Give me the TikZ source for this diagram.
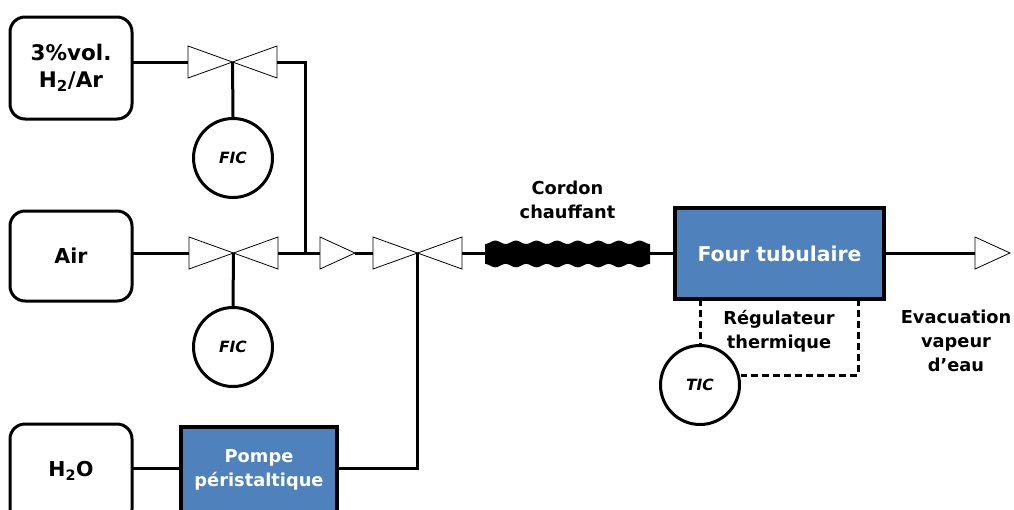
\documentclass[tikz,border=0pt]{standalone}
\usepackage{fontspec}
\setmainfont{DejaVu Sans}
\definecolor{boxblue}{HTML}{4F81BD}
\tikzset{
  pipe/.style={line width=3pt,line cap=butt,line join=miter},
  signal/.style={line width=3pt,dash pattern=on 7pt off 4pt,line join=miter},
  srcbox/.style={draw,line width=3pt,rounded corners=15pt,minimum width=122pt,align=center,font=\bfseries\fontsize{20.5}{27}\selectfont,inner sep=0pt},
  unitbox/.style={draw,line width=3.2pt,fill=boxblue,text=white,align=center,inner sep=0pt},
  instr/.style={draw,circle,line width=3pt,fill=white,minimum size=79pt,inner sep=0pt,font=\bfseries\itshape\fontsize{15.5}{18}\selectfont},
  lbl/.style={align=center,font=\bfseries\fontsize{17.8}{24}\selectfont,inner sep=0pt},
  tri/.style={draw,line width=0.8pt,fill=white,line join=miter},
  valve/.pic={
    \coordinate (-l) at (-44.5,0);
    \coordinate (-r) at (44.5,0);
    \coordinate (-c) at (0,0);
    \draw[tri] (-44.5,-16) -- (0,0) -- (-44.5,16) -- cycle;
    \draw[tri] (44.5,-16) -- (0,0) -- (44.5,16) -- cycle;
  },
  oneway/.pic={
    \coordinate (-l) at (0,0);
    \coordinate (-r) at (35,0);
    \draw[tri] (0,-16) -- (35,0) -- (0,16) -- cycle;
  }
}
\begin{document}
\begin{tikzpicture}[x=1pt,y=-1pt]
\useasboundingbox (0,0) rectangle (1014,509);
\clip (0,0) rectangle (1014,509);
% boxes
\node[srcbox,minimum height=102pt,font=\bfseries\fontsize{21.5}{27}\selectfont] (gas) at (71,68) {3\%vol.\\H\textsubscript{2}/Ar};
\node[srcbox,minimum height=90pt] (air) at (71,256) {Air};
\node[srcbox,minimum height=100pt] (eau) at (71,474) {};
\node[lbl,font=\bfseries\fontsize{20.5}{26}\selectfont] (eautxt) at (71,471) {H\textsubscript{2}O};
\node[unitbox,minimum width=156pt,minimum height=100pt] (pompe) at (259,477) {};
\node[lbl,text=white] (pompetxt) at (259,470) {Pompe\\péristaltique};
\node[unitbox,minimum width=209pt,minimum height=91pt,font=\bfseries\fontsize{20.4}{24}\selectfont] (four) at (779.5,253.5) {Four tubulaire};
% connector anchors
\coordinate (j1) at (305,62);
\coordinate (j2) at (305,253);
\coordinate (j3) at (417.5,468);
\coordinate (cl) at (485,253);
\coordinate (cr) at (650,253);
\coordinate (fs1) at (700,299);
\coordinate (fs2) at (858,299);
\coordinate (ts2) at (858,375);
% pipes
\coordinate (gasr) at (132,62);
\coordinate (airr) at (132,253);
\coordinate (eaur) at (132,468);
\coordinate (pompel) at (181,468);
\coordinate (pomper) at (337,468);
\coordinate (fourr) at (884,253);
\coordinate (fourl) at (675,253);
% valves
\pic (v1) at (232.5,62) {valve};
\pic (v2) at (233.5,253) {valve};
\pic (v3) at (417.5,253) {valve};
\pic (a1) at (320,253) {oneway};
\pic (a2) at (975,253) {oneway};
\draw[pipe] (gasr) -- (v1-l);
\draw[pipe] (v1-r) -- (j1) -- (j2);
\draw[pipe] (airr) -- (v2-l);
\draw[pipe] (v2-r) -- (a1-l);
\draw[pipe] (a1-r) -- (v3-l);
\draw[pipe] (v3-r) -- (cl);
\draw[pipe] (cr) -- (fourl);
\draw[pipe] (fourr) -- (a2-l);
\draw[pipe] (eaur) -- (pompel);
\draw[pipe] (pomper) -- (j3) -- (v3-c);
% instruments
\node[instr] (fic1) at (233,158) {FIC};
\node[instr] (fic2) at (233,347) {FIC};
\node[instr] (tic) at (700,385) {TIC};
\draw[pipe] (v1-c) -- (fic1.north);
\draw[pipe] (v2-c) -- (fic2.north);
\draw[signal] (fs1) -- (tic.north);
\draw[signal] (fs2) -- (ts2) -- (tic.east |- ts2);
% heating cord
\fill[black] plot[domain=0:165,samples=100,smooth] (485+\x,{242.3+1.7*cos(\x/20.6*360)}) -- plot[domain=165:0,samples=100,smooth] (485+\x,{265.6-1.7*cos(\x/20.6*360)}) -- cycle;
% labels
\node[lbl] (cordon) at (567.5,200) {Cordon\\chauffant};
\node[lbl] (regul) at (779,331.5) {Régulateur\\thermique};
\node[lbl] (evac) at (956,341) {Evacuation\\vapeur\\d’eau};
\end{tikzpicture}
\end{document}
